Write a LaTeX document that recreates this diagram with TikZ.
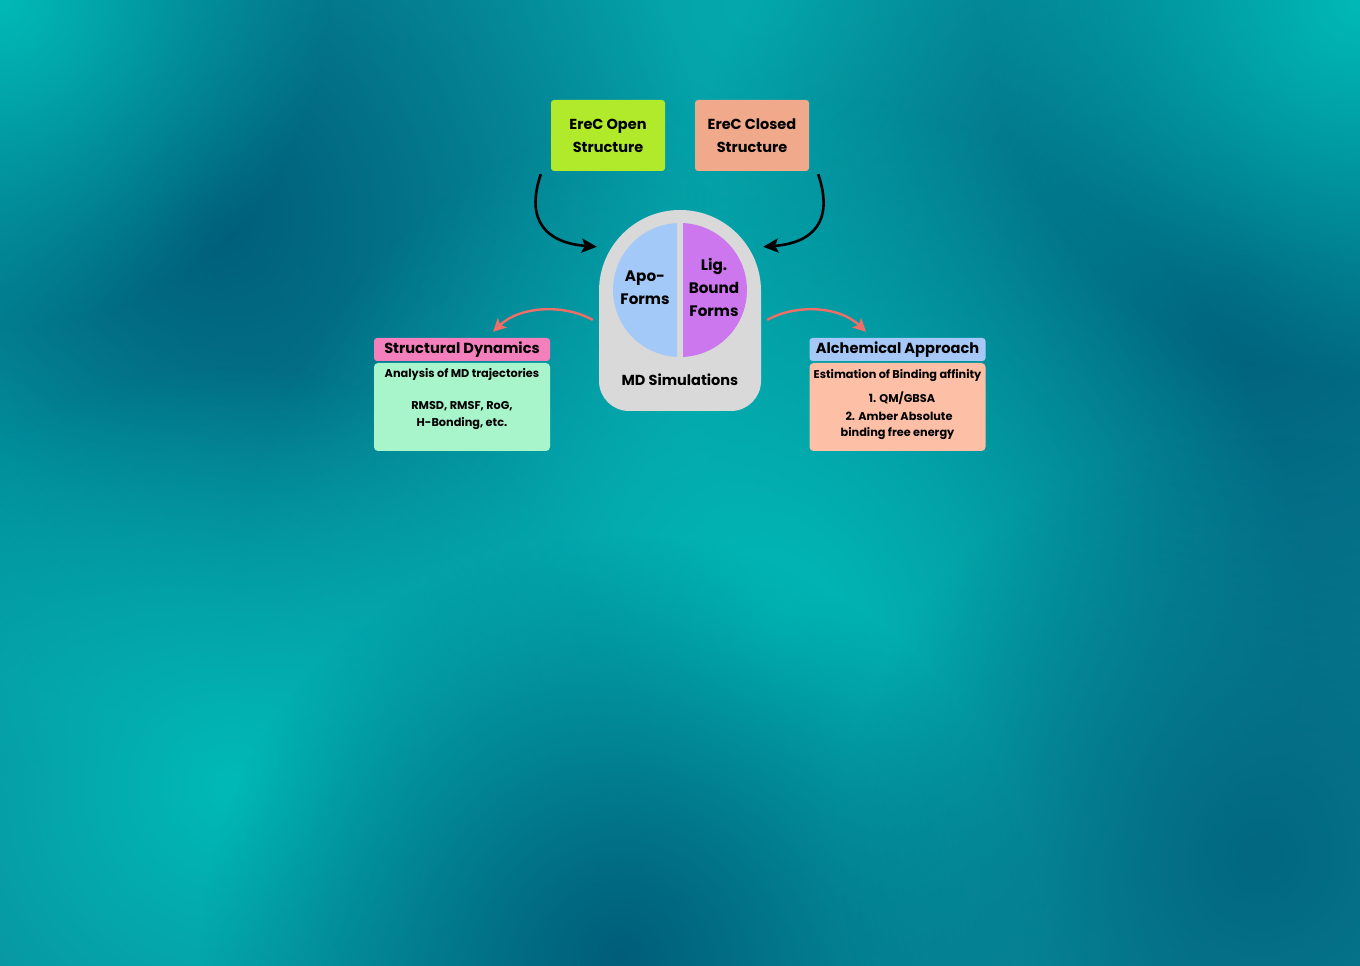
\documentclass[tikz,border=0pt]{standalone}
\usepackage{fontspec}
\setmainfont{Poppins}
\usetikzlibrary{arrows.meta,fadings,calc}

\definecolor{seabase}{HTML}{0B899B}
\definecolor{seadark}{HTML}{005E7A}
\definecolor{sealight}{HTML}{00BAB7}
\definecolor{openfill}{HTML}{B0EA2A}
\definecolor{closedfill}{HTML}{F0A98A}
\definecolor{mdgrey}{HTML}{D9D9D9}
\definecolor{apofill}{HTML}{A3C9F8}
\definecolor{ligfill}{HTML}{CC77EE}
\definecolor{pinkhead}{HTML}{F47FBD}
\definecolor{mintbody}{HTML}{A8F5CC}
\definecolor{bluehead}{HTML}{A6C8F6}
\definecolor{peachbody}{HTML}{FDBFA5}
\definecolor{coral}{HTML}{F06E66}

\tikzfading[name=blobfade, inner color=transparent!0, outer color=transparent!100]

\tikzset{
  blob/.style={fill=#1, path fading=blobfade},
  topbox/.style={draw=none, fill=#1, rounded corners=3pt, minimum width=114pt,
    minimum height=71pt, align=center, font=\bfseries\fontsize{14.5}{23}\selectfont},
  headbox/.style={fill=#1, rounded corners=3pt, minimum width=176pt, minimum height=23pt,
    inner sep=0pt, font=\bfseries\fontsize{14.6}{16}\selectfont},
  bodybox/.style={fill=#1, rounded corners=4pt, minimum width=176pt, minimum height=88pt,
    inner sep=0pt},
  smalltext/.style={font=\bfseries\fontsize{11.3}{12}\selectfont, inner sep=0pt},
  halftext/.style={font=\bfseries\fontsize{15.2}{23}\selectfont, align=center, inner sep=0pt},
  feedarrow/.style={line width=2.6pt, -{Stealth[length=15pt,width=14pt,inset=3pt]}, black},
  outarrow/.style={line width=2.4pt, coral, -{Stealth[length=13pt,width=13pt,inset=3pt]}},
}

\begin{document}
\begin{tikzpicture}[x=1pt,y=1pt]
  % backdrop: teal field with soft light and dark patches
  \fill[seabase] (0,0) rectangle (1360,966);
  \useasboundingbox (0,0) rectangle (1360,966);
  \begin{scope}
    \clip (0,0) rectangle (1360,966);
    \fill[blob=sealight!65!seabase] (760,966) circle (620);
    \fill[blob=sealight!70!seabase] (0,520) circle (320);
    \fill[blob=seadark] (210,750) circle (500);
    \fill[blob=seadark] (1240,690) circle (560);
    \fill[blob=sealight] (0,966) circle (330);
    \fill[blob=sealight] (1360,966) circle (380);
    \fill[blob=sealight] (770,340) circle (540);
    \fill[blob=sealight] (230,180) circle (420);
    \fill[blob=seadark] (620,10) circle (420);
    \fill[blob=seadark!80!seabase] (1260,110) circle (420);
  \end{scope}

  % starting structures
  \node[topbox=openfill] (open) at (608,830.5) {EreC Open\\Structure};
  \node[topbox=closedfill] (closed) at (752,830.5) {EreC Closed\\Structure};

  % MD simulation capsule
  \node[minimum width=162pt, minimum height=201pt, inner sep=0pt] (md) at (680,655.5) {};
  \fill[mdgrey] (599,675) arc[start angle=180, end angle=0, radius=81]
    -- (761,585) arc[start angle=0, end angle=-90, radius=30]
    -- (629,555) arc[start angle=270, end angle=180, radius=30] -- cycle;
  \fill[apofill] (677,742.9) arc[start angle=92.6, end angle=267.4, radius=67] -- cycle;
  \fill[ligfill] (683,742.9) arc[start angle=87.4, end angle=-87.4, radius=67] -- cycle;
  \node[halftext] (apo) at (645,678) {Apo-\\Forms};
  \node[halftext] (lig) at (714,679) {Lig.\\Bound\\Forms};
  \node[font=\bfseries\fontsize{14.5}{16}\selectfont, inner sep=0pt] (mdlabel) at (680,586) {MD Simulations};

  % analysis panels
  \node[bodybox=mintbody] (structbody) at (462,559) {};
  \node[headbox=pinkhead] (struct) at (462,616.5) {Structural Dynamics};
  \node[smalltext] (structa) at (462,592) {Analysis of MD trajectories};
  \node[smalltext] (structb) at (462,560) {RMSD, RMSF, RoG,};
  \node[smalltext] (structc) at (462,542) {H-Bonding, etc.};

  \node[bodybox=peachbody] (alchbody) at (897.5,559) {};
  \node[headbox=bluehead] (alch) at (897.5,616.5) {Alchemical Approach};
  \node[smalltext] (alcha) at (897.5,590) {Estimation of Binding affinity};
  \node[smalltext] (alchb) at (902,568) {1. QM/GBSA};
  \node[smalltext] (alchc) at (899,550) {2. Amber Absolute};
  \node[smalltext] (alchd) at (897.5,532) {binding free energy};

  % feeding arrows into the simulations
  \draw[feedarrow] ([xshift=-10pt,yshift=-3pt]open.south west)
    .. controls ++(-16,-47) and ++(-50,4) .. ([xshift=-2pt,yshift=-37pt]md.north west);
  \draw[feedarrow] ([xshift=9pt,yshift=-3pt]closed.south east)
    .. controls ++(16,-47) and ++(50,4) .. ([xshift=2pt,yshift=-37pt]md.north east);

  % outgoing arrows to the analyses
  \draw[outarrow] ([xshift=-6pt,yshift=-9.5pt]md.west)
    .. controls ++(-28,16) and ++(27,26) .. ([xshift=31pt,yshift=6pt]struct.north);
  \draw[outarrow] ([xshift=6pt,yshift=-9.5pt]md.east)
    .. controls ++(28,16) and ++(-27,26) .. ([xshift=-31.5pt,yshift=6pt]alch.north);
\end{tikzpicture}
\end{document}
